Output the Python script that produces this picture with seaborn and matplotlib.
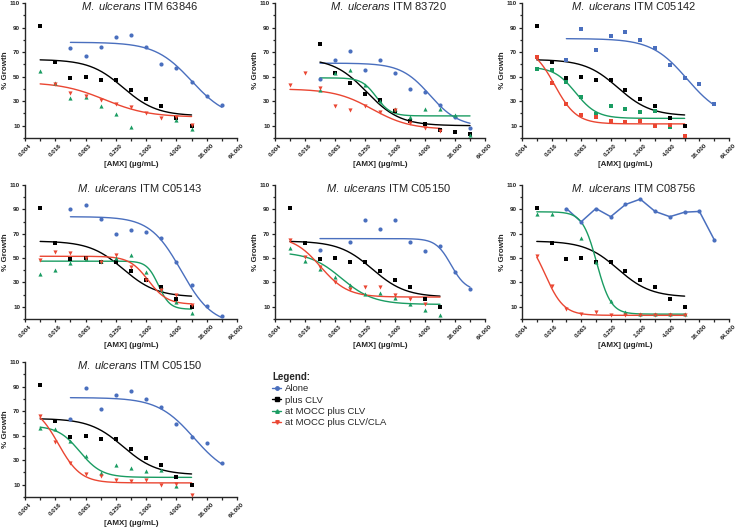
import numpy as np
import pandas as pd
import matplotlib
matplotlib.use('Agg')
import matplotlib.pyplot as plt
import seaborn as sns
from matplotlib.lines import Line2D
from matplotlib.ticker import FixedLocator, NullFormatter

sns.set_style('ticks')
plt.rcParams['font.family'] = ['Liberation Sans', 'DejaVu Sans']
plt.rcParams['mathtext.fontset'] = 'custom'
plt.rcParams['mathtext.it'] = 'Liberation Sans:italic'
plt.rcParams['mathtext.rm'] = 'Liberation Sans'

nan = np.nan

# AMX concentrations (ug/mL), two-fold dilutions
conc = [0.0078125, 0.015625, 0.03125, 0.0625, 0.125, 0.25, 0.5, 1.0, 2.0, 4.0, 8.0, 16.0, 32.0]
xtick_major = [0.00390625, 0.015625, 0.0625, 0.25, 1.0, 4.0, 16.0, 64.0]
xtick_labels = ['0.004', '0.016', '0.063', '0.250', '1.000', '4.000', '16.000', '64.000']
xtick_minor = [0.0078125, 0.03125, 0.125, 0.5, 2.0, 8.0, 32.0]
ytick_major = [10, 30, 50, 70, 90, 110]
ytick_minor = [0, 20, 40, 60, 80, 100]

series_names = ['Alone', 'plus CLV', 'at MOCC plus CLV', 'at MOCC plus CLV/CLA']
colors = ['#4a6fbe', '#000000', '#1a9c62', '#ea4632']

# % growth values per strain (NaN = no point shown)
black_std = [91, 62, 49, 50, 47, 47, 39, 32, 26, 16.5, 10, nan, nan]

blue_63846 = [nan, nan, 73, 67, 74, 82, 84, 74, 60, 57, 46, 34.5, 27]
green_63846 = [55, 45, 33, 33.5, 26, 19.5, 9, nan, nan, 15, 7, nan, nan]
red_63846 = [nan, 43.6, 37, 34.4, 31, 28, 25.5, 20.6, 16, 17, 11, nan, nan]

blue_83720 = [nan, nan, 48, 63.4, 70.7, 55.8, 63.7, 52.6, 39.6, 37.7, 27, 17.3, 8.4]
black_83720 = [nan, nan, 77, 52.6, 45, 35.5, 30.6, 22.2, 13.8, 11.7, 6.5, 4.9, 3.5]
green_83720 = [nan, nan, 39, 52.6, 55.3, 43, 30, 23.6, 17.3, 24, 24, 18.7, 2.7]
red_83720 = [43, 52.8, 41, 26, 22.8, 26, 21, 22.8, 12.5, 8.4, 5.3, nan, nan]

blue_c05142 = [nan, nan, 63.4, 88.6, 72, 83, 86, 80, 73.4, 59.3, 49, 44, 28]
green_c05142 = [56.6, 55.8, 45.8, 33.6, 19.5, 26, 23.8, 21.4, 21.7, 9.2, nan, nan, nan]
red_c05142 = [65.6, 45, 27.6, 19, 16.8, 14, 13, 13.5, 9.8, 11, 1.6, nan, nan]

blue_c05143 = [nan, nan, 90.5, 93.7, 82, 69.8, 72.8, 71.7, 66.2, 47, 28, 10.9, 2.2]
green_c05143 = [37, 40.6, 46.3, 49, 48, 50, 52.9, 38.4, 25, 14, 5, nan, nan]
red_c05143 = [48.2, 54.8, 54.2, 50, 47, 52.9, 43, 32.4, 24, 19.6, 11.2, nan, nan]

blue_c05150 = [nan, nan, 57, nan, 63, 81, 74, 81, 63.5, 56, 59.7, 38.5, 24.8]
green_c05150 = [58.5, 47.8, 41, 34.8, 28.3, 20.3, 21.2, 17, 12.5, 7.6, 3.3, nan, nan]
red_c05150 = [65, 51, 43, 30.5, 25, 26, 26, 20, 16.5, 12.5, nan, nan, nan]

blue_c08756 = [nan, nan, 90.7, 79.8, 90.7, 84, 94, 98.4, 88.3, 84, 87.7, 88.3, 65.1]
green_c08756 = [86, 85.8, nan, 66.5, 47, 14.4, 5.7, 4.4, 4.4, 4.4, 4.4, nan, nan]
red_c08756 = [51.5, 27.5, 8.4, 4.1, 6, 3.5, 3, 3, 3, 3, 3, nan, nan]

# sigmoid fits: top, bottom, IC50, hill, from, to
fit_black_std = (64, 18, 0.35, 1.3, 0.0078125, 8)
fit_blue_63846 = (78, 15, 8, 1.2, 0.03125, 32)
fit_red_63846 = (45.5, 17, 0.15, 1.0, 0.0078125, 8)
fit_blue_83720 = (61, 9, 5, 1.5, 0.03125, 32)
fit_black_83720 = (65, 10, 0.27, 1.3, 0.03125, 32)
fit_green_83720 = (49, 18, 0.42, 3.0, 0.03125, 32)
fit_red_83720 = (40, 7, 0.35, 1.15, 0.0078125, 8)
fit_blue_c05142 = (81, 15, 9, 1.2, 0.03125, 32)
fit_green_c05142 = (58, 16, 0.048, 2.0, 0.0078125, 8)
fit_red_c05142 = (75, 11.5, 0.018, 1.95, 0.0078125, 8)
fit_blue_c05143 = (84, -5, 5, 1.4, 0.03125, 32)
fit_green_c05143 = (47.5, 8, 1.75, 3.8, 0.0078125, 8)
fit_red_c05143 = (51.5, 12, 1.1, 2.3, 0.0078125, 8)
fit_blue_c05150 = (66, 23, 13.3, 2.87, 0.03125, 32)
fit_green_c05150 = (55, 12, 0.084, 1.35, 0.0078125, 8)
fit_red_c05150 = (68, 18, 0.032, 1.6, 0.0078125, 8)
fit_green_c08756 = (88, 4, 0.13, 3.0, 0.0078125, 8)
fit_red_c08756 = (70, 3, 0.0116, 2.3, 0.0078125, 8)

titles = ['ITM 63846', 'ITM 83720', 'ITM C05142', 'ITM C05143', 'ITM C05150', 'ITM C08756', 'ITM C05150']

# (values, fit or 'line' or None, marker) for blue, black, green, red
panels = [
    [(blue_63846, fit_blue_63846, 'o'), (black_std, fit_black_std, 's'),
     (green_63846, None, '^'), (red_63846, fit_red_63846, 'v')],
    [(blue_83720, fit_blue_83720, 'o'), (black_83720, fit_black_83720, 's'),
     (green_83720, fit_green_83720, '^'), (red_83720, fit_red_83720, 'v')],
    [(blue_c05142, fit_blue_c05142, 's'), (black_std, fit_black_std, 's'),
     (green_c05142, fit_green_c05142, 's'), (red_c05142, fit_red_c05142, 's')],
    [(blue_c05143, fit_blue_c05143, 'o'), (black_std, fit_black_std, 's'),
     (green_c05143, fit_green_c05143, '^'), (red_c05143, fit_red_c05143, 'v')],
    [(blue_c05150, fit_blue_c05150, 'o'), (black_std, fit_black_std, 's'),
     (green_c05150, fit_green_c05150, '^'), (red_c05150, fit_red_c05150, 'v')],
    [(blue_c08756, 'line', 'o'), (black_std, fit_black_std, 's'),
     (green_c08756, fit_green_c08756, '^'), (red_c08756, fit_red_c08756, 'v')],
    [(blue_c05142, fit_blue_c05142, 'o'), (black_std, fit_black_std, 's'),
     (green_c05142, fit_green_c05142, '^'), (red_c05142, fit_red_c05142, 'v')],
]

# axes boxes in pixels: left, top, width, height
W, H = 740, 532
col_left = [25, 275, 522]
col_width = [212, 210, 207]
row_top = [3, 185, 362]
row_height = [135, 134, 135]


def four_pl(x, top, bottom, ic50, hill):
    return bottom + (top - bottom) / (1 + (x / ic50) ** hill)


fig = plt.figure(figsize=(W / 100, H / 100), dpi=100)

for i, (panel, title) in enumerate(zip(panels, titles)):
    r, c = divmod(i, 3)
    ax = fig.add_axes([col_left[c] / W, 1 - (row_top[r] + row_height[r]) / H,
                       col_width[c] / W, row_height[r] / H])
    for k, (vals, fit, marker) in enumerate(panel):
        col = colors[k]
        if fit == 'line':
            df = pd.DataFrame({'conc': conc, 'growth': vals}).dropna()
            sns.lineplot(data=df, x='conc', y='growth', ax=ax, color=col, lw=1.1,
                         estimator=None)
        elif fit is not None:
            top, bottom, ic50, hill, x0, x1 = fit
            xs = np.geomspace(x0, x1, 200)
            sns.lineplot(x=xs, y=four_pl(xs, top, bottom, ic50, hill), ax=ax,
                         color=col, lw=1.0, estimator=None)
        if marker == 's':
            size = 10 if k == 1 else 8
        else:
            size = 9
        sns.scatterplot(x=conc, y=vals, ax=ax, color=col, marker=marker, s=size,
                        linewidth=0, clip_on=False, zorder=3)

    ax.set_xscale('log', base=2)
    ax.set_xlim(xtick_major[0], xtick_major[-1])
    ax.set_ylim(0, 110)
    ax.set_xticks(xtick_major)
    ax.set_xticklabels(xtick_labels, rotation=45, fontsize=4.5, fontweight='bold')
    ax.xaxis.set_minor_locator(FixedLocator(xtick_minor))
    ax.xaxis.set_minor_formatter(NullFormatter())
    ax.set_yticks(ytick_major)
    ax.set_yticklabels([str(v) for v in ytick_major], fontsize=4.5, fontweight='bold')
    ax.yaxis.set_minor_locator(FixedLocator(ytick_minor))
    ax.tick_params(which='major', length=2.5, width=0.9, pad=1, colors='#222222')
    ax.tick_params(which='minor', length=1.8, width=0.9)
    for s in ['left', 'bottom']:
        ax.spines[s].set_linewidth(1.0)
    sns.despine(ax=ax)
    ax.set_xlabel('[AMX] (µg/mL)', fontsize=5.8, fontweight='bold', labelpad=0.5)
    ax.set_ylabel('% Growth', fontsize=5.8, fontweight='bold', labelpad=1)
    ax.text(0.54, 0.98, r'$\mathit{M.\ ulcerans}$ ' + title, transform=ax.transAxes,
            ha='center', va='center', fontsize=8, color='#222222')

handles = [Line2D([], [], color=colors[k], marker=m, markersize=2.5, lw=1)
           for k, m in enumerate(['o', 's', '^', 'v'])]
leg = fig.legend(handles, series_names, loc='upper left',
                 bbox_to_anchor=(272 / W, 1 - 372 / H), frameon=False,
                 title='Legend:', title_fontproperties={'weight': 'bold', 'size': 7},
                 fontsize=6.8, handlelength=1.0, handletextpad=0.4,
                 labelspacing=0.25, borderpad=0, borderaxespad=0)
leg._legend_box.align = 'left'

fig.savefig('out.png', dpi=100)
